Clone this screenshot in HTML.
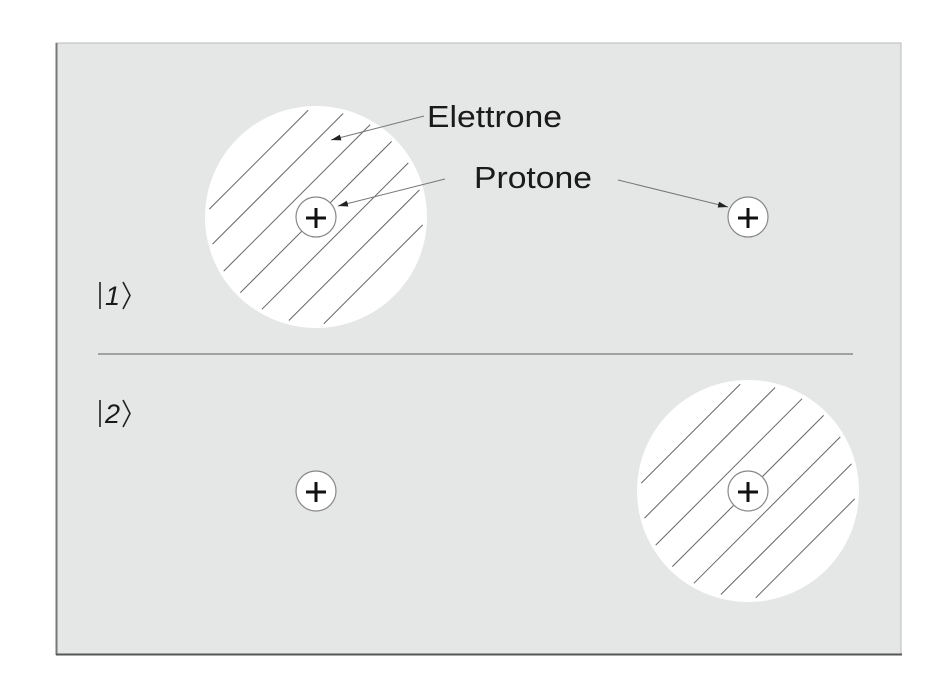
<!DOCTYPE html>
<html><head><meta charset="utf-8"><style>
html,body{margin:0;padding:0;background:#fff;width:926px;height:682px;overflow:hidden}
svg{display:block}
text{font-family:"Liberation Sans",sans-serif;fill:#1a1a1a}
</style></head><body>
<svg width="926" height="682" viewBox="0 0 926 682">
<defs>
<marker id="ah" viewBox="0 0 10 6" refX="10" refY="3" markerWidth="10" markerHeight="6" orient="auto" markerUnits="userSpaceOnUse">
<path d="M0,0 L10,3 L0,6 z" fill="#222"/>
</marker>
</defs>
<rect x="56" y="43" width="845" height="611" fill="#e5e6e6" stroke="#bbb" stroke-width="1"/>
<line x1="56.5" y1="43" x2="56.5" y2="655" stroke="#777" stroke-width="2"/>
<line x1="56" y1="654.5" x2="902" y2="654.5" stroke="#555" stroke-width="2"/>
<line x1="98" y1="354" x2="853" y2="354" stroke="#8a8a8a" stroke-width="1.5"/>
<g id="clouds"></g>
<g>
<line x1="100" y1="282" x2="100" y2="309" stroke="#222" stroke-width="1.6"/>
<text x="105" y="305" font-size="27" font-style="italic">1</text>
<path d="M123,282 L130,295.5 L123,309" fill="none" stroke="#222" stroke-width="1.6"/>
</g>
<g>
<line x1="100" y1="400" x2="100" y2="427" stroke="#222" stroke-width="1.6"/>
<text x="105" y="423" font-size="27" font-style="italic">2</text>
<path d="M123,400 L130,413.5 L123,427" fill="none" stroke="#222" stroke-width="1.6"/>
</g>
<text x="427" y="127" font-size="31" textLength="135" lengthAdjust="spacingAndGlyphs">Elettrone</text>
<text x="474" y="188" font-size="31" textLength="118" lengthAdjust="spacingAndGlyphs">Protone</text>
<line x1="424" y1="116" x2="331" y2="140" stroke="#777" stroke-width="1" marker-end="url(#ah)"/>
<line x1="445" y1="179" x2="338" y2="206" stroke="#777" stroke-width="1" marker-end="url(#ah)"/>
<line x1="618" y1="180" x2="728" y2="207" stroke="#777" stroke-width="1" marker-end="url(#ah)"/>
</svg>
<script>
const NS="http://www.w3.org/2000/svg";
const clouds=document.getElementById('clouds');
function mk(t,a){const e=document.createElementNS(NS,t);for(const k in a)e.setAttribute(k,a[k]);return e;}
const cloudCenters=[[316,217],[748,491]];
const protonCenters=[[316,217],[748,217],[316,491],[748,491]];
const R=111,sp=27;
cloudCenters.forEach(([cx,cy],i)=>{
  const g=mk('g',{});
  
  
  g.appendChild(mk('circle',{cx,cy,r:R,fill:'#fff'}));
  for(let d=-4;d<=4;d++){
    const off=d*sp;const rr=R-4;
    if(Math.abs(off)>=rr)continue;
    const h=Math.sqrt(rr*rr-off*off);
    const px=cx+off/Math.SQRT2, py=cy+off/Math.SQRT2;
    const ux=1/Math.SQRT2, uy=-1/Math.SQRT2;
    const l=mk('line',{x1:px-ux*h,y1:py-uy*h,x2:px+ux*h,y2:py+uy*h,stroke:'#666','stroke-width':1});
    
    
    g.appendChild(l);
  }
  clouds.appendChild(g);
});
protonCenters.forEach(([cx,cy],i)=>{
  const g=mk('g',{});
  
  
  g.appendChild(mk('circle',{cx,cy,r:20,fill:'#fff',stroke:'#888','stroke-width':1.2}));
  g.appendChild(mk('line',{x1:cx-10,y1:cy+1,x2:cx+10,y2:cy+1,stroke:'#111','stroke-width':3}));
  g.appendChild(mk('line',{x1:cx,y1:cy-9,x2:cx,y2:cy+11,stroke:'#111','stroke-width':3}));
  clouds.appendChild(g);
});
</script>
</body></html>
